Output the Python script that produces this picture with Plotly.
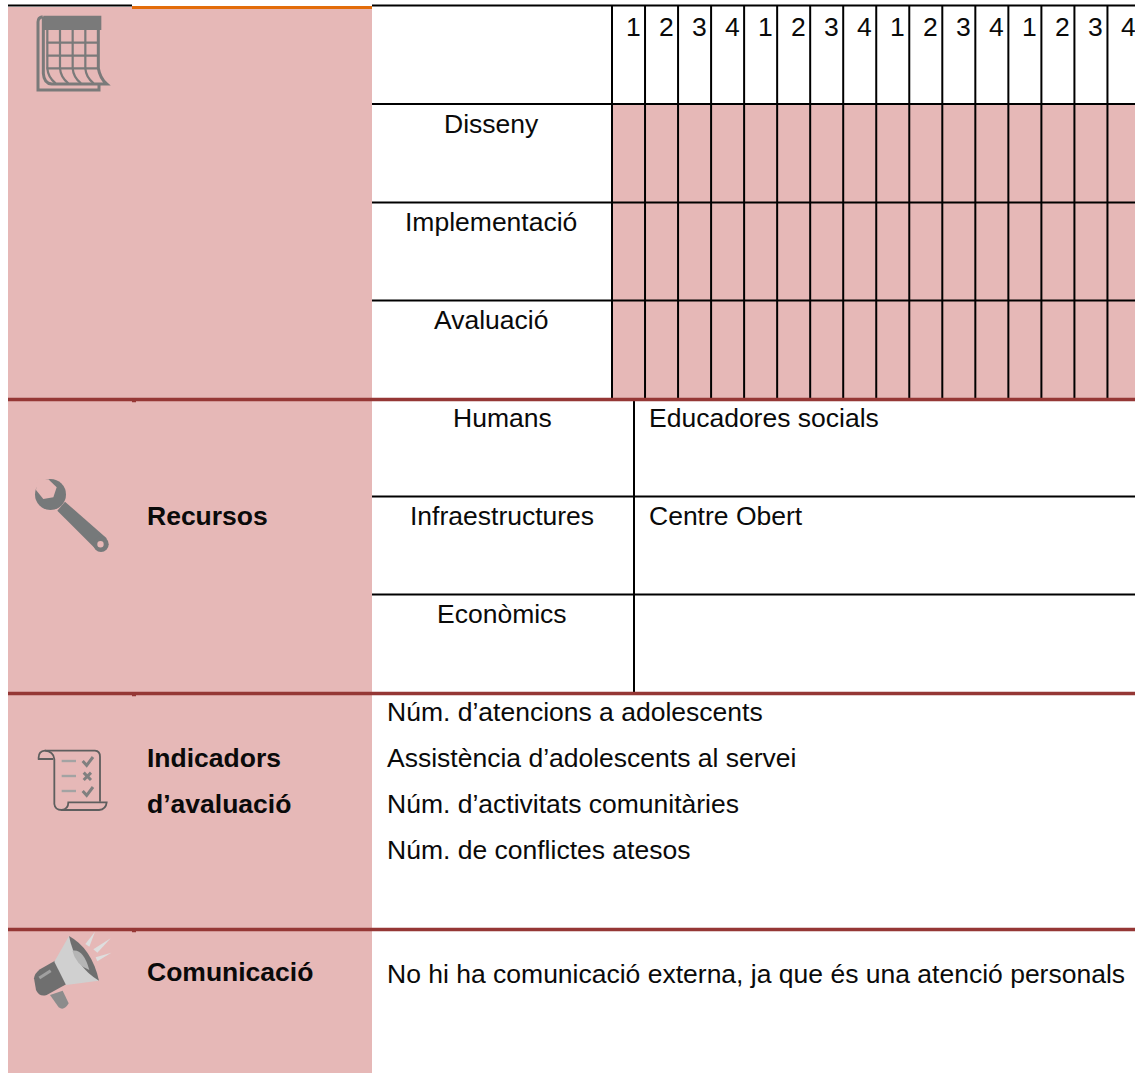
import re
import plotly.graph_objects as go

# ---------- content ----------
quarter_labels = ["1", "2", "3", "4"] * 4
phase_labels = ["Disseny", "Implementació", "Avaluació"]
resource_labels = ["Humans", "Infraestructures", "Econòmics"]
resource_values = ["Educadores socials", "Centre Obert", ""]
section_labels = ["Recursos", "Indicadors", "d’avaluació", "Comunicació"]
indicator_labels = [
    "Núm. d’atencions a adolescents",
    "Assistència d’adolescents al servei",
    "Núm. d’activitats comunitàries",
    "Núm. de conflictes atesos",
]
communication_label = "No hi ha comunicació externa, ja que és una atenció personals"

# ---------- layout geometry (pixels) ----------
W, H = 1135, 1073
PINK, RED, BLACK, ORANGE = "#E6B8B7", "#953735", "#000000", "#E36C0A"
TEXT = "#0a0a0a"
FONT = "Liberation Sans"
FS = 26.5
col_x = [612 + i * 33.03 for i in range(16)]
phase_y = [104, 202.5, 300.5]
res_y = [399.5, 496.5, 594.5]
red_y = [399.5, 693.5, 929.5]

shapes, ann = [], []


def rect(x0, y0, x1, y1, color):
    shapes.append(dict(type="rect", x0=x0, y0=y0, x1=x1, y1=y1, fillcolor=color,
                       line=dict(width=0), layer="above"))


def line(x0, y0, x1, y1, color=BLACK, w=2):
    shapes.append(dict(type="line", x0=x0, y0=y0, x1=x1, y1=y1,
                       line=dict(color=color, width=w)))


def text(x, y, s, anchor="left", bold=False):
    ann.append(dict(x=x, y=y, text=f"<b>{s}</b>" if bold else s, showarrow=False,
                    xanchor=anchor, yanchor="middle",
                    xshift=-2 if anchor == "left" else 0,
                    font=dict(family=FONT, size=FS, color=TEXT)))


def icon(path, ox, oy, fill=None, stroke=None, w=0, s=1 / 3):
    """Path written in 3x crop coordinates, mapped back to page pixels."""
    toks = re.findall(r"[MLQCZ]|-?[\d.]+", path)
    out, is_x = [], True
    for t in toks:
        if t.isalpha():
            out.append(t)
            is_x = True
        else:
            v = float(t) * s + (ox if is_x else oy)
            out.append(f"{v:.2f}")
            is_x = not is_x
    d = dict(type="path", path=" ".join(out), line=dict(width=w, color=stroke or "rgba(0,0,0,0)"))
    if fill:
        d["fillcolor"] = fill
    shapes.append(d)


def circle(cx, cy, r, color):
    shapes.append(dict(type="circle", x0=cx - r, y0=cy - r, x1=cx + r, y1=cy + r,
                       fillcolor=color, line=dict(width=0)))


# panels
rect(8, 7, 372, H, PINK)
rect(612, 104, W, 399, PINK)

# top rules
line(8, 5.5, 132, 5.5, BLACK, 2)
line(372, 5.5, W, 5.5, BLACK, 2)
line(132, 7.5, 372, 7.5, ORANGE, 3)

# planning grid
for y in phase_y:
    line(372, y, W, y, BLACK, 2)
for x in col_x:
    line(x, 6, x, 399, BLACK, 2)

# resources grid
for y in res_y[1:]:
    line(372, y, W, y, BLACK, 2)
line(634, 400, 634, 693, BLACK, 2)

# section rules
for y in red_y:
    line(8, y, W, y, RED, 3.5)
    line(132, y + 1, 136, y + 1, RED, 3.5)

# texts
for x, q in zip(col_x, quarter_labels):
    text(x + 21, 27, q, "center")
for y, p in zip([124, 222, 320], phase_labels):
    text(491, y, p, "center")
for y, r, v in zip([418, 516, 614], resource_labels, resource_values):
    text(502, y, r, "center")
    if v:
        text(649, y, v)
for y, s in zip([516, 758, 804, 972], section_labels):
    text(147, y, s, bold=True)
for y, s in zip([712, 758, 804, 850], indicator_labels):
    text(387, y, s)
text(387, 974, communication_label)

# ---- calendar icon ----
ICO = "#7a7a7a"
icon("M130 47 L304 47 L304 90 L130 90 Z", 0, 0, fill=ICO)
icon("M128 50 Q114 52 114 66 L114 270 L297 270 L297 252", 0, 0, stroke=ICO, w=3)
icon("M130 50 L130 220 Q132 250 155 252 L320 252 Q300 235 295 205 L295 90", 0, 0, fill=None, stroke=ICO, w=3)
for zx in (142, 180, 218, 256):
    icon(f"M{zx} 90 L{zx} 205 Q{zx+2} 232 {zx+25} 250", 0, 0, stroke=ICO, w=2.2)
for zy in (128, 167, 205):
    icon(f"M140 {zy} L295 {zy}", 0, 0, stroke=ICO, w=2.2)

# ---- wrench icon ----
WR = "#76797A"
circle(50.5, 494.5, 15.5, WR)
icon("M108 330 L130 357 L160 352 L170 322 L145 298 L112 300 Z", 0, 380, fill=PINK)
icon("M172 392 L195 365 L320 475 L290 510 Z", 0, 380, fill=WR)
circle(101, 544.3, 7.7, WR)
circle(100.5, 544.3, 3.2, PINK)

# ---- scroll icon ----
SC = "#5e5e5e"
icon("M160 237 L116 237 Q114 214 135 212 L285 212 Q300 213 300 230 L300 365", 0, 680, stroke=SC, w=1.8)
icon("M135 212 Q160 214 163 237 L163 372 Q165 390 185 390 Q205 388 205 367 L320 367 Q318 388 297 390 L185 390", 0, 680, stroke=SC, w=1.8)
for zy in (243, 288, 333):
    icon(f"M185 {zy} L228 {zy}", 0, 680, stroke="#a3a3a3", w=2.4)
for zy in (243, 333):
    icon(f"M248 {zy} L260 {zy+13} L279 {zy-12}", 0, 680, stroke="#808080", w=3)
icon("M251 278 L273 300", 0, 680, stroke="#808080", w=3)
icon("M273 278 L251 300", 0, 680, stroke="#808080", w=3)

# ---- megaphone icon ----
icon("M150 225 L176 262 Q192 274 206 250 L188 212 Z", 0, 920, fill="#8c8c8c")
icon("M102 175 Q104 160 120 148 L165 122 L200 192 L140 225 Q118 232 108 210 Z", 0, 920, fill="#6f6f6f")
icon("M118 174 L152 152", 0, 920, stroke="#a0a0a0", w=3)
icon("M207 48 L163 125 L198 195 L296 182 Z", 0, 920, fill="#d0d0d0")
icon("M207 48 Q275 85 297 182 Q225 140 207 48 Z", 0, 920, fill="#6f6f6f")
icon("M217 92 Q250 85 268 150 Q228 135 217 92 Z", 0, 920, fill="#b5b5b5")
for tri in ("M285 35 L256 72 L268 80 Z", "M332 55 L280 88 L292 98 Z", "M334 98 L287 112 L292 124 Z"):
    icon(tri, 0, 920, fill="#dedede")

fig = go.Figure()
fig.update_layout(
    width=W, height=H, margin=dict(l=0, r=0, t=0, b=0),
    paper_bgcolor="white", plot_bgcolor="white", showlegend=False,
    xaxis=dict(range=[0, W], visible=False, fixedrange=True),
    yaxis=dict(range=[H, 0], visible=False, fixedrange=True),
    shapes=shapes, annotations=ann,
)
fig.write_html("out.html", config=dict(displayModeBar=False),
               post_script="document.body.style.margin='0';document.body.style.overflow='hidden';")
